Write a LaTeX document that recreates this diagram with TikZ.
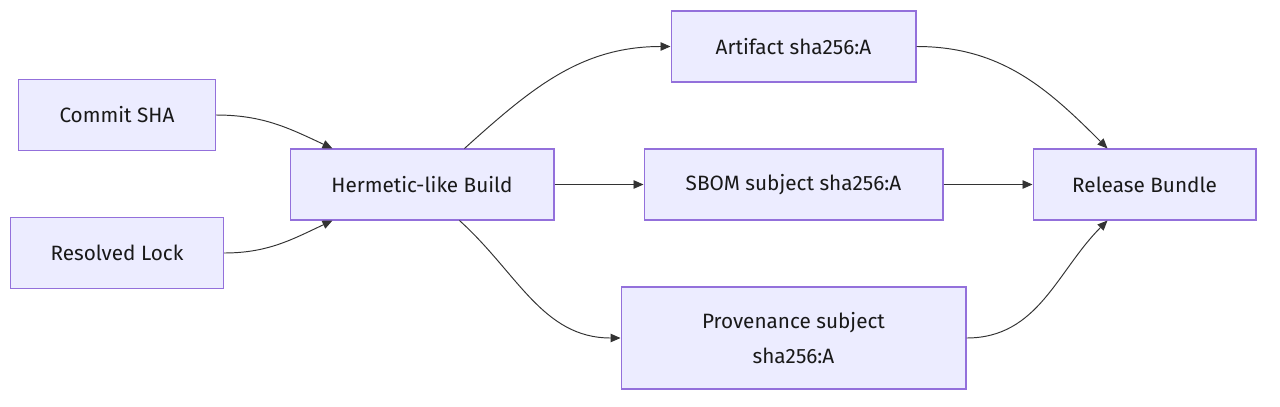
\documentclass[tikz,border=0pt]{standalone}
\usepackage{fontspec}
\setmainfont{Fira Sans}
\usepackage{tikz}
\usetikzlibrary{positioning, arrows.meta}
\definecolor{mmFill}{RGB}{236, 236, 255}
\definecolor{mmBorder}{RGB}{147, 112, 219}
\definecolor{mmLine}{RGB}{51, 51, 51}
\tikzset{
    base/.style={
        font=\fontsize{11.8}{19.5}\selectfont,
        align=center
    },
    stage/.style={
        base,
        rectangle,
        draw=mmBorder,
        line width=0.6pt,
        fill=mmFill,
        text=black!90,
        minimum height=1.42cm,
        inner sep=1mm
    },
    flow/.style={
        -{Triangle[length=2mm, width=1.7mm]},
        line width=0.55pt,
        color=mmLine
    }
}
\begin{document}
\begin{tikzpicture}[x=0.02cm, y=-0.02cm]
  \useasboundingbox (0,0) rectangle (1280,406);

  % Inputs
  \node[stage, minimum width=3.94cm] (commit) at (117,115) {Commit SHA};
  \node[stage, minimum width=4.26cm] (lock) at (117,253) {Resolved Lock};

  % Build
  \node[stage, minimum width=5.28cm] (build) at (422,184.5) {Hermetic-like Build};

  % Outputs
  \node[stage, minimum width=4.9cm] (artifact) at (793.5,46.5) {Artifact sha256:A};
  \node[stage, minimum width=5.98cm] (sbom) at (793.5,184.5) {SBOM subject sha256:A};
  \node[stage, minimum width=6.9cm, minimum height=2.04cm] (prov) at (793.5,338) {Provenance subject\\sha256:A};

  % Bundle
  \node[stage, minimum width=4.46cm] (bundle) at (1144.5,184.5) {Release Bundle};

  % Edges
  \draw[flow] (commit.east) to[out=0, in=155] ([xshift=0.86cm]build.north west);
  \draw[flow] (lock.east) to[out=0, in=-155] ([xshift=0.86cm]build.south west);
  \draw[flow] ([xshift=3.5cm]build.north west) to[out=42, in=180] (artifact.west);
  \draw[flow] (build.east) -- (sbom.west);
  \draw[flow] ([xshift=3.4cm]build.south west) to[out=-42, in=180] (prov.west);
  \draw[flow] (artifact.east) to[out=0, in=135] ([xshift=1.5cm]bundle.north west);
  \draw[flow] (sbom.east) -- (bundle.west);
  \draw[flow] (prov.east) to[out=0, in=-135] ([xshift=1.5cm]bundle.south west);
\end{tikzpicture}
\end{document}
